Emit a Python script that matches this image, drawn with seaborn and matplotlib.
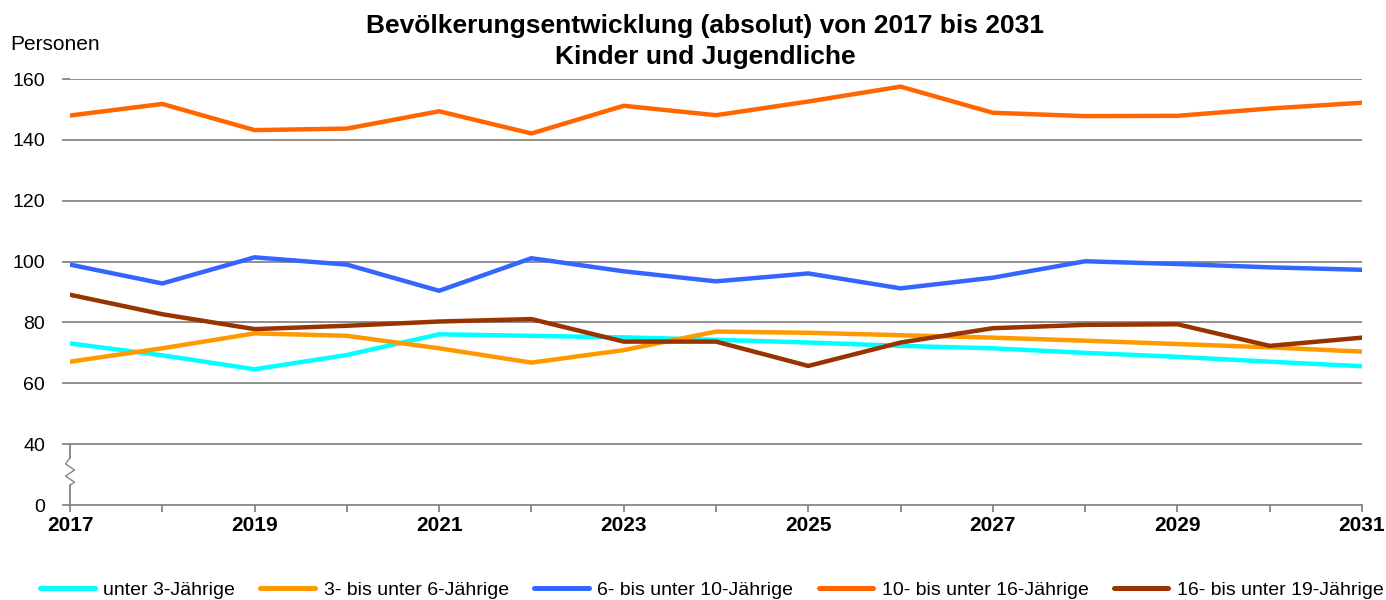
import numpy as np
import pandas as pd
import seaborn as sns
import matplotlib.pyplot as plt
from matplotlib.lines import Line2D

years = list(range(2017, 2032))

unter_3 = [73.1, 69.2, 64.6, 69.3, 76.1, 75.6, 75.1, 74.3, 73.4, 72.3, 71.5, 70.0, 68.7, 67.1, 65.6]
von_3_bis_6 = [67.1, 71.5, 76.4, 75.6, 71.5, 66.8, 70.9, 77.0, 76.6, 75.8, 75.0, 74.0, 72.9, 71.8, 70.4]
von_6_bis_10 = [99.0, 92.8, 101.4, 99.0, 90.4, 101.1, 96.8, 93.5, 96.1, 91.2, 94.7, 100.1, 99.2, 98.1, 97.3]
von_10_bis_16 = [148.0, 151.8, 143.2, 143.7, 149.4, 142.1, 151.2, 148.1, 152.6, 157.5, 148.9, 147.8, 147.9, 150.3, 152.2]
von_16_bis_19 = [89.1, 82.7, 77.8, 78.9, 80.3, 81.1, 73.7, 73.7, 65.7, 73.4, 78.1, 79.2, 79.4, 72.3, 75.0]

series_names = ["unter 3-Jährige", "3- bis unter 6-Jährige", "6- bis unter 10-Jährige",
                "10- bis unter 16-Jährige", "16- bis unter 19-Jährige"]
colors = ["#00FFFF", "#FF9900", "#3366FF", "#FF6600", "#993300"]

y_ticks = [20, 40, 60, 80, 100, 120, 140, 160]
y_tick_labels = ["0", "40", "60", "80", "100", "120", "140", "160"]

df = pd.DataFrame({
    "Jahr": years * 5,
    "Personen": unter_3 + von_3_bis_6 + von_6_bis_10 + von_10_bis_16 + von_16_bis_19,
    "Gruppe": sum([[n] * len(years) for n in series_names], []),
})

sns.set_style("white")
plt.rcParams["font.family"] = ["Liberation Sans", "DejaVu Sans"]
plt.rcParams["text.color"] = "black"
plt.rcParams["xtick.labelcolor"] = "black"
plt.rcParams["ytick.labelcolor"] = "black"

fig = plt.figure(figsize=(13.86, 6.0), dpi=100)
ax = fig.add_axes([70 / 1386, 1 - 505 / 600, (1362 - 70) / 1386, (505 - 79) / 600])

sns.lineplot(data=df, x="Jahr", y="Personen", hue="Gruppe", hue_order=series_names,
             palette=colors, linewidth=3.2, ax=ax, legend=False, solid_capstyle="round")

ax.set_xlim(2017, 2031)
ax.set_ylim(20, 160)
ax.set_xticks(years[::2])
ax.set_xticks(years, minor=True)
ax.set_xticklabels([str(y) for y in years[::2]], fontweight="bold", fontsize=15, color="black")
ax.set_yticks(y_ticks)
ax.set_yticklabels(y_tick_labels, fontsize=14, color="black")
ax.set_xlabel("")
ax.set_ylabel("")

for v in y_ticks[1:]:
    ax.axhline(v, color="#868686", lw=1.3, zorder=0)

for s in ["top", "right", "left"]:
    ax.spines[s].set_visible(False)
ax.spines["bottom"].set_color("#868686")
ax.spines["bottom"].set_linewidth(1.3)

ax.tick_params(axis="x", which="both", direction="out", length=5, color="#868686",
               width=1.3, bottom=True, pad=3)
ax.tick_params(axis="y", direction="out", length=6, color="#868686", width=1.3, left=True, pad=12)

# y axis with break marker between 0 and 40
tr = ax.get_yaxis_transform()
gc = "#868686"
ax.plot([0, 0], [40, 35.5], transform=tr, color=gc, lw=1.3, clip_on=False)
ax.plot([0, 0], [26.5, 20], transform=tr, color=gc, lw=1.3, clip_on=False)
zx = np.array([0, -0.0035, 0.0035, -0.0035, 0.0035, 0])
zy = np.array([35.5, 33.5, 31.5, 29.5, 27.5, 26.5])
ax.plot(zx, zy, transform=tr, color=gc, lw=1.0, clip_on=False)

fig.text(10 / 1386, 1 - 45 / 600, "Personen", fontsize=15, va="center", ha="left")
fig.text(705 / 1386, 1 - 26 / 600, "Bevölkerungsentwicklung (absolut) von 2017 bis 2031",
         fontsize=19, fontweight="bold", ha="center", va="center")
fig.text(705 / 1386, 1 - 57 / 600, "Kinder und Jugendliche",
         fontsize=19, fontweight="bold", ha="center", va="center")

handles = [Line2D([0], [0], color=c, lw=3.6, solid_capstyle="round") for c in colors]
fig.legend(handles, series_names, loc="center", bbox_to_anchor=(712 / 1386, 1 - 590 / 600), ncol=5,
           frameon=False, fontsize=14, handlelength=2.8, columnspacing=1.3, handletextpad=0.45,
           borderaxespad=0, borderpad=0)

fig.savefig("out.png", dpi=100)
